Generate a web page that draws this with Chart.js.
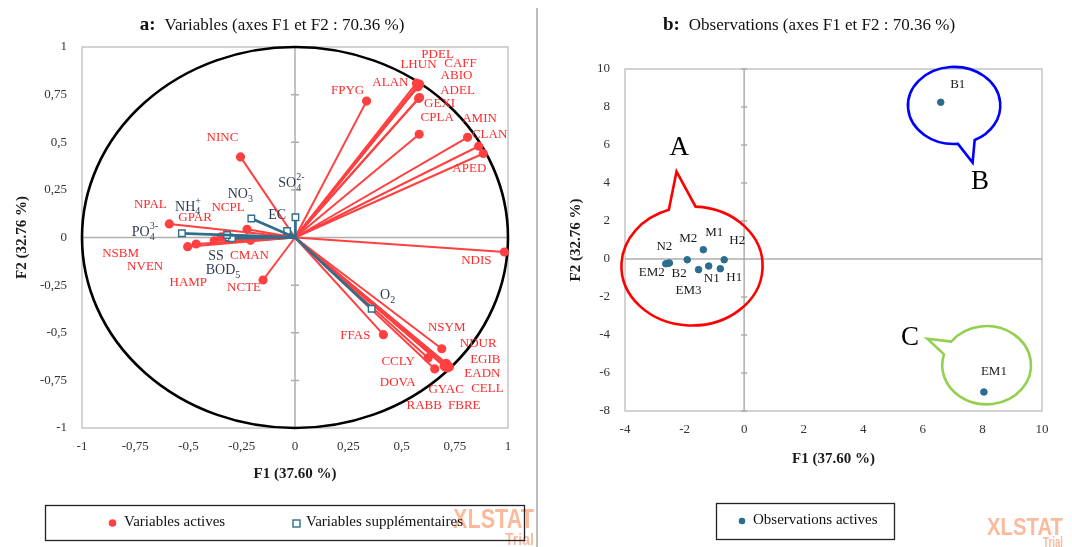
<!DOCTYPE html>
<html><head><meta charset="utf-8">
<script src="https://cdn.jsdelivr.net/npm/chart.js@4.4.1/dist/chart.umd.min.js"></script>
<style>
html,body{margin:0;padding:0;background:#fff;}
body{width:1072px;height:547px;position:relative;overflow:hidden;}
#c1{position:absolute;left:0;top:0;}
#c2{position:absolute;left:538px;top:0;}
#divider{position:absolute;left:536px;top:8px;width:1.5px;height:539px;background:#BDBDBD;}
</style></head><body>
<canvas id="c1" width="537" height="547"></canvas>
<div id="divider"></div>
<canvas id="c2" width="534" height="547"></canvas>
<script>
// ---------- DATA : panel a (variables) ----------
const activeNames = ['FPYG','ALAN','LHUN','PDEL','CAFF','ABIO','ADEL','GEXI','CPLA','AMIN','CLAN','APED','NDIS','NSYM','FFAS','CCLY','DOVA','NDUR','EGIB','EADN','CELL','GYAC','FBRE','RABB','NINC','NPAL','GPAR','NCPL','NSBM','NVEN','HAMP','CMAN','NCTE'];
const activeF1 = [0.336,0.570,0.575,0.585,0.580,0.575,0.580,0.585,0.583,0.810,0.862,0.884,0.983,0.689,0.415,0.625,0.656,0.710,0.715,0.720,0.725,0.700,0.715,0.705,-0.256,-0.590,-0.347,-0.225,-0.504,-0.464,-0.379,-0.209,-0.150];
const activeF2 = [0.716,0.810,0.800,0.805,0.795,0.790,0.730,0.735,0.542,0.526,0.479,0.441,-0.076,-0.584,-0.510,-0.632,-0.690,-0.660,-0.670,-0.675,-0.680,-0.675,-0.685,-0.680,0.423,0.071,0.004,0.043,-0.048,-0.034,-0.017,-0.015,-0.223];

const suppNames = ['PO_{4}^{3-}','NH_{4}^{+}','NO_{3}^{-}','EC','SO_{4}^{2-}','SS','BOD_{5}','O_{2}'];
const suppF1 = [-0.531,-0.319,-0.205,-0.037,0.002,-0.296,-0.310,0.360];
const suppF2 = [0.022,0.013,0.100,0.034,0.106,-0.004,0.000,-0.374];

const axisTicksA = [-1,-0.75,-0.5,-0.25,0,0.25,0.5,0.75,1];

// ---------- DATA : panel b (observations) ----------
const obsNames = ['B1','B2','EM1','EM2','EM3','H1','H2','M1','M2','N1','N2'];
const obsF1 = [6.60,-2.55,8.05,-2.63,-1.53,-0.80,-0.67,-1.37,-1.91,-1.19,-2.51];
const obsF2 = [8.25,-0.22,-7.00,-0.25,-0.56,-0.51,-0.04,0.49,-0.04,-0.37,-0.21];

// ---------- label placement (pixel offsets from the point) ----------
const activeLabelOffset = {FPYG:[-19,-11],ALAN:[-26,-1],LHUN:[1,-21],PDEL:[18,-30],CAFF:[42,-22],ABIO:[39,-11],ADEL:[39,-8],GEXI:[20,6],CPLA:[18,-17],AMIN:[12,-19],CLAN:[11,-12],APED:[-14,15],NDIS:[-28,9],NSYM:[5,-21],FFAS:[-28,1],CCLY:[-30,4],DOVA:[-37,14],NDUR:[32,-20],EGIB:[38,-6],EADN:[34,7],CELL:[38,22],GYAC:[2,23],FBRE:[17,38],RABB:[-21,39],NINC:[-18,-19],NPAL:[-19,-19],GPAR:[-26,-19],NCPL:[-19,-22],NSBM:[-67,7],NVEN:[-51,23],HAMP:[-26,42],CMAN:[-1,15],NCTE:[-19,8]};
const suppLabelOffset = [[-37,-1],[-39,-28],[-11,-24],[-10,-16],[-4,-34],[-16,18],[-6,33],[16,-13]];
const obsLabelOffset = {B1:[17,-18],B2:[11,10],EM1:[10,-20],EM2:[-14,9],EM3:[-10,21],H1:[14,9],H2:[13,-19],M1:[11,-17],M2:[1,-21],N1:[3,13],N2:[-5,-16]};

// group annotations (speech bubbles) in panel b, data units
const groupNotes = [
  {letter:'A', color:'#FF0000', cx:-1.75, cy:-0.37, rx:2.37, ry:3.13, base1:[-2.53,2.59], tip:[-2.27,4.60], base2:[-1.63,2.76], letterAt:[-2.18,5.83]},
  {letter:'B', color:'#0000FF', cx:7.05, cy:8.08, rx:1.55, ry:2.03, base1:[7.18,6.05], tip:[7.67,5.07], base2:[7.74,6.26], letterAt:[7.92,4.07]},
  {letter:'C', color:'#92D050', cx:8.14, cy:-5.59, rx:1.49, ry:2.06, base1:[6.71,-5.02], tip:[6.15,-4.20], base2:[6.99,-4.38], letterAt:[5.57,-4.15]}
];

// ---------- styles ----------
const SERIF = '"Liberation Serif","Times New Roman",serif';
const SANS = '"Liberation Sans",Arial,sans-serif';
const RED = '#FF4040';
const BLUE = '#2F6E8C';
const OBS = '#2A6D8E';
const SUPTXT = '#2E3B52';

function fmtComma(v){ const r = Math.round(v*100)/100; return String(r).replace('.', ','); }

function drawRich(ctx, s, cx, cy, size, color){
  const parts = []; const re = /_\{([^}]*)\}|\^\{([^}]*)\}|([^_^]+)/g; let m;
  while((m = re.exec(s))){
    if(m[1]!==undefined) parts.push({t:m[1],k:'sub'});
    else if(m[2]!==undefined) parts.push({t:m[2],k:'sup'});
    else parts.push({t:m[3],k:'n'});
  }
  const small = Math.round(size*0.7);
  let x = 0, prev = null; const items = [];
  parts.forEach(p=>{
    const fs = p.k==='n'?size:small;
    ctx.font = fs+'px '+SERIF;
    const w = ctx.measureText(p.t).width;
    let px = x;
    if(p.k==='sup' && prev && prev.k==='sub'){ px = prev.x; x = Math.max(prev.x+prev.w, px+w); }
    else x = px + w;
    const dy = p.k==='sub'? size*0.33 : p.k==='sup'? -size*0.42 : 0;
    const it = {t:p.t,x:px,w:w,fs:fs,dy:dy}; items.push(it); prev = Object.assign({k:p.k}, it);
  });
  ctx.fillStyle = color; ctx.textBaseline = 'middle'; ctx.textAlign = 'left';
  items.forEach(it=>{ ctx.font = it.fs+'px '+SERIF; ctx.fillText(it.t, cx - x/2 + it.x, cy + it.dy); });
}

function frame(chart, tickLen){
  const {ctx, chartArea:a, scales:{x,y}} = chart;
  ctx.save();
  ctx.strokeStyle = '#C4C4C4'; ctx.lineWidth = 1.5;
  ctx.strokeRect(a.left, a.top, a.right-a.left, a.bottom-a.top);
  const x0 = x.getPixelForValue(0), y0 = y.getPixelForValue(0);
  ctx.strokeStyle = '#AEAEAE'; ctx.lineWidth = 1.5;
  ctx.beginPath();
  ctx.moveTo(a.left, y0); ctx.lineTo(a.right, y0);
  ctx.moveTo(x0, a.top); ctx.lineTo(x0, a.bottom);
  y.ticks.forEach(t=>{ const py = y.getPixelForValue(t.value); ctx.moveTo(x0-tickLen, py); ctx.lineTo(x0+tickLen, py); });
  ctx.stroke();
  ctx.restore();
}

function drawTitle(ctx, bold, rest, cx, baseline){
  ctx.save(); ctx.textBaseline = 'alphabetic'; ctx.textAlign = 'left'; ctx.fillStyle = '#111';
  ctx.font = 'bold 19px '+SERIF; const w1 = ctx.measureText(bold).width;
  ctx.font = '17px '+SERIF; const w2 = ctx.measureText(rest).width;
  const gap = 9; const start = cx - (w1+gap+w2)/2;
  ctx.font = 'bold 19px '+SERIF; ctx.fillText(bold, start, baseline);
  ctx.font = '17px '+SERIF; ctx.fillText(rest, start+w1+gap, baseline);
  ctx.restore();
}

function fitText(ctx, t, x1, y1, x2, y2){
  const h = y2-y1; const fs = h/0.72;
  ctx.font = 'bold '+fs+'px '+SANS;
  const w = ctx.measureText(t).width;
  ctx.save(); ctx.translate(x1, y2); ctx.scale((x2-x1)/w, 1);
  ctx.textBaseline = 'alphabetic'; ctx.textAlign = 'left'; ctx.fillText(t, 0, 0); ctx.restore();
}
function watermark(ctx, b1, b2){
  ctx.save(); ctx.fillStyle = 'rgba(247,140,90,0.6)';
  fitText(ctx, 'XLSTAT', b1[0], b1[1], b1[2], b1[3]);
  fitText(ctx, 'Trial', b2[0], b2[1], b2[2], b2[3]);
  ctx.restore();
}

function legendBox(ctx, x1, y1, x2, y2){
  ctx.save(); ctx.strokeStyle = '#222'; ctx.lineWidth = 1.3;
  ctx.strokeRect(x1+0.5, y1+0.5, x2-x1, y2-y1); ctx.restore();
}
function legendText(ctx, t, x, y){
  ctx.save(); ctx.font = '15px '+SERIF; ctx.fillStyle = '#111'; ctx.textBaseline = 'middle'; ctx.textAlign = 'left';
  ctx.fillText(t, x, y); ctx.restore();
}

function baseScale(min, max, step, fit, isX, titleText, titlePad, tickPad, fmt){
  return {
    type:'linear', min:min, max:max, position: isX?'bottom':'left',
    afterFit: s => { if(isX) s.height = fit; else s.width = fit; },
    grid:{display:false, drawTicks:false}, border:{display:false},
    ticks:{stepSize:step, padding:tickPad, color:'#333', font:{family:SERIF, size:13}, callback:fmt, autoSkip:false, maxRotation:0, includeBounds:true},
    title:{display:true, text:titleText, color:'#1a1a1a', font:{family:SERIF, size:15, weight:'bold'}, padding:titlePad}
  };
}

// ---------- Chart a ----------
const dsA = [];
activeNames.forEach((n,i)=>{
  dsA.push({label:n, data:[{x:0,y:0},{x:activeF1[i],y:activeF2[i]}], showLine:true,
    borderColor:RED, backgroundColor:RED, pointBorderColor:RED, borderWidth:2,
    pointRadius:c=>c.dataIndex===0?0:3.6, pointHoverRadius:0, pointStyle:'circle', order:1, clip:false});
});
suppNames.forEach((n,i)=>{
  dsA.push({label:n, data:[{x:0,y:0},{x:suppF1[i],y:suppF2[i]}], showLine:true,
    borderColor:BLUE, backgroundColor:'#ffffff', pointBackgroundColor:'#ffffff', pointBorderColor:BLUE, borderWidth:2.7, pointBorderWidth:1.4,
    pointRadius:c=>c.dataIndex===0?0:4.6, pointHoverRadius:0, pointStyle:'rect', order:0, clip:false});
});

const pluginA = {
  id:'panelA',
  beforeDatasetsDraw(chart){
    frame(chart, 4);
    const {ctx, scales:{x,y}} = chart;
    const cx = x.getPixelForValue(0), cy = y.getPixelForValue(0);
    const rx = x.getPixelForValue(1)-cx, ry = cy - y.getPixelForValue(1);
    ctx.save(); ctx.strokeStyle = '#000'; ctx.lineWidth = 2.6;
    ctx.beginPath(); ctx.ellipse(cx, cy, rx, ry, 0, 0, Math.PI*2); ctx.stroke(); ctx.restore();
  },
  afterDatasetsDraw(chart){
    const {ctx, scales:{x,y}} = chart;
    ctx.save();
    activeNames.forEach((n,i)=>{
      const o = activeLabelOffset[n];
      drawRich(ctx, n, x.getPixelForValue(activeF1[i])+o[0], y.getPixelForValue(activeF2[i])+o[1], 13, '#FF2A2A');
    });
    suppNames.forEach((n,i)=>{
      const o = suppLabelOffset[i];
      drawRich(ctx, n, x.getPixelForValue(suppF1[i])+o[0], y.getPixelForValue(suppF2[i])+o[1], 14, SUPTXT);
    });
    ctx.restore();
  },
  afterDraw(chart){
    const ctx = chart.ctx;
    drawTitle(ctx, 'a:', 'Variables (axes F1 et F2 : 70.36 %)', 272, 30);
    watermark(ctx, [453,508,534,528], [505,533,534,545]);
    legendBox(ctx, 45, 505, 524, 540);
    ctx.save(); ctx.fillStyle = RED; ctx.beginPath(); ctx.arc(112.5, 523, 3.8, 0, Math.PI*2); ctx.fill();
    ctx.fillStyle = '#fff'; ctx.strokeStyle = BLUE; ctx.lineWidth = 1.4; ctx.fillRect(293, 520, 7, 7); ctx.strokeRect(293, 520, 7, 7); ctx.restore();
    legendText(ctx, 'Variables actives', 124, 522);
    legendText(ctx, 'Variables supplémentaires', 306, 522);
  }
};

new Chart(document.getElementById('c1'), {
  type:'scatter',
  data:{datasets:dsA},
  options:{
    responsive:false, animation:false, events:[], devicePixelRatio:1,
    layout:{padding:{left:0, top:47, right:29, bottom:59}},
    plugins:{legend:{display:false}, tooltip:{enabled:false}, title:{display:false}},
    scales:{
      x: Object.assign(baseScale(-1, 1, 0.25, 60, true, 'F1 (37.60 %)', {top:0,bottom:5}, 11, v=>fmtComma(v)), {afterBuildTicks: s => { s.ticks = axisTicksA.map(v=>({value:v})); }}),
      y: Object.assign(baseScale(-1, 1, 0.25, 82, false, 'F2 (32.76 %)', {top:13,bottom:0}, 15, v=>fmtComma(v)), {afterBuildTicks: s => { s.ticks = axisTicksA.map(v=>({value:v})); }})
    }
  },
  plugins:[pluginA]
});

// ---------- Chart b ----------
function drawBubble(ctx, x, y, g){
  const cx = x.getPixelForValue(g.cx), cy = y.getPixelForValue(g.cy);
  const rx = Math.abs(x.getPixelForValue(g.cx+g.rx)-cx), ry = Math.abs(y.getPixelForValue(g.cy+g.ry)-cy);
  const ang = p => Math.atan2((y.getPixelForValue(p[1])-cy)/ry, (x.getPixelForValue(p[0])-cx)/rx);
  const t1 = ang(g.base1), t2 = ang(g.base2); const TAU = Math.PI*2;
  const d = ((t2-t1)%TAU+TAU)%TAU;
  let a = t1, b = t2; if(d < Math.PI){ a = t2; b = t1; }
  ctx.save();
  ctx.beginPath();
  ctx.moveTo(cx + rx*Math.cos(a), cy + ry*Math.sin(a));
  ctx.ellipse(cx, cy, rx, ry, 0, a, b, false);
  ctx.lineTo(x.getPixelForValue(g.tip[0]), y.getPixelForValue(g.tip[1]));
  ctx.closePath();
  ctx.strokeStyle = g.color; ctx.lineWidth = 2.6; ctx.lineJoin = 'miter'; ctx.stroke();
  ctx.fillStyle = '#000'; ctx.font = '27px '+SERIF; ctx.textAlign = 'center'; ctx.textBaseline = 'middle';
  ctx.fillText(g.letter, x.getPixelForValue(g.letterAt[0]), y.getPixelForValue(g.letterAt[1]));
  ctx.restore();
}

const pluginB = {
  id:'panelB',
  beforeDatasetsDraw(chart){
    frame(chart, 3);
    const {ctx, scales:{x,y}} = chart;
    groupNotes.forEach(g=>drawBubble(ctx, x, y, g));
  },
  afterDatasetsDraw(chart){
    const {ctx, scales:{x,y}} = chart;
    ctx.save();
    obsNames.forEach((n,i)=>{
      const o = obsLabelOffset[n];
      drawRich(ctx, n, x.getPixelForValue(obsF1[i])+o[0], y.getPixelForValue(obsF2[i])+o[1], 13, '#1a1a1a');
    });
    ctx.restore();
  },
  afterDraw(chart){
    const ctx = chart.ctx;
    drawTitle(ctx, 'b:', 'Observations (axes F1 et F2 : 70.36 %)', 271, 30);
    watermark(ctx, [449,518,525,535], [505,537,525,547]);
    legendBox(ctx, 178, 503, 356, 539);
    ctx.save(); ctx.fillStyle = OBS; ctx.beginPath(); ctx.arc(204, 521, 3.3, 0, Math.PI*2); ctx.fill(); ctx.restore();
    legendText(ctx, 'Observations actives', 215, 520);
  }
};

new Chart(document.getElementById('c2'), {
  type:'scatter',
  data:{datasets:[{label:'Observations actives', data:obsF1.map((v,i)=>({x:v,y:obsF2[i]})),
    backgroundColor:OBS, borderColor:OBS, pointRadius:3.3, pointHoverRadius:0, showLine:false, clip:false}]},
  options:{
    responsive:false, animation:false, events:[], devicePixelRatio:1,
    layout:{padding:{left:0, top:69, right:30, bottom:76}},
    plugins:{legend:{display:false}, tooltip:{enabled:false}, title:{display:false}},
    scales:{
      x: baseScale(-4, 10, 2, 60, true, 'F1 (37.60 %)', {top:0,bottom:3}, 11, v=>String(v)),
      y: baseScale(-8, 10, 2, 87, false, 'F2 (32.76 %)', {top:29,bottom:0}, 15, v=>String(v))
    }
  },
  plugins:[pluginB]
});
</script>
</body></html>
